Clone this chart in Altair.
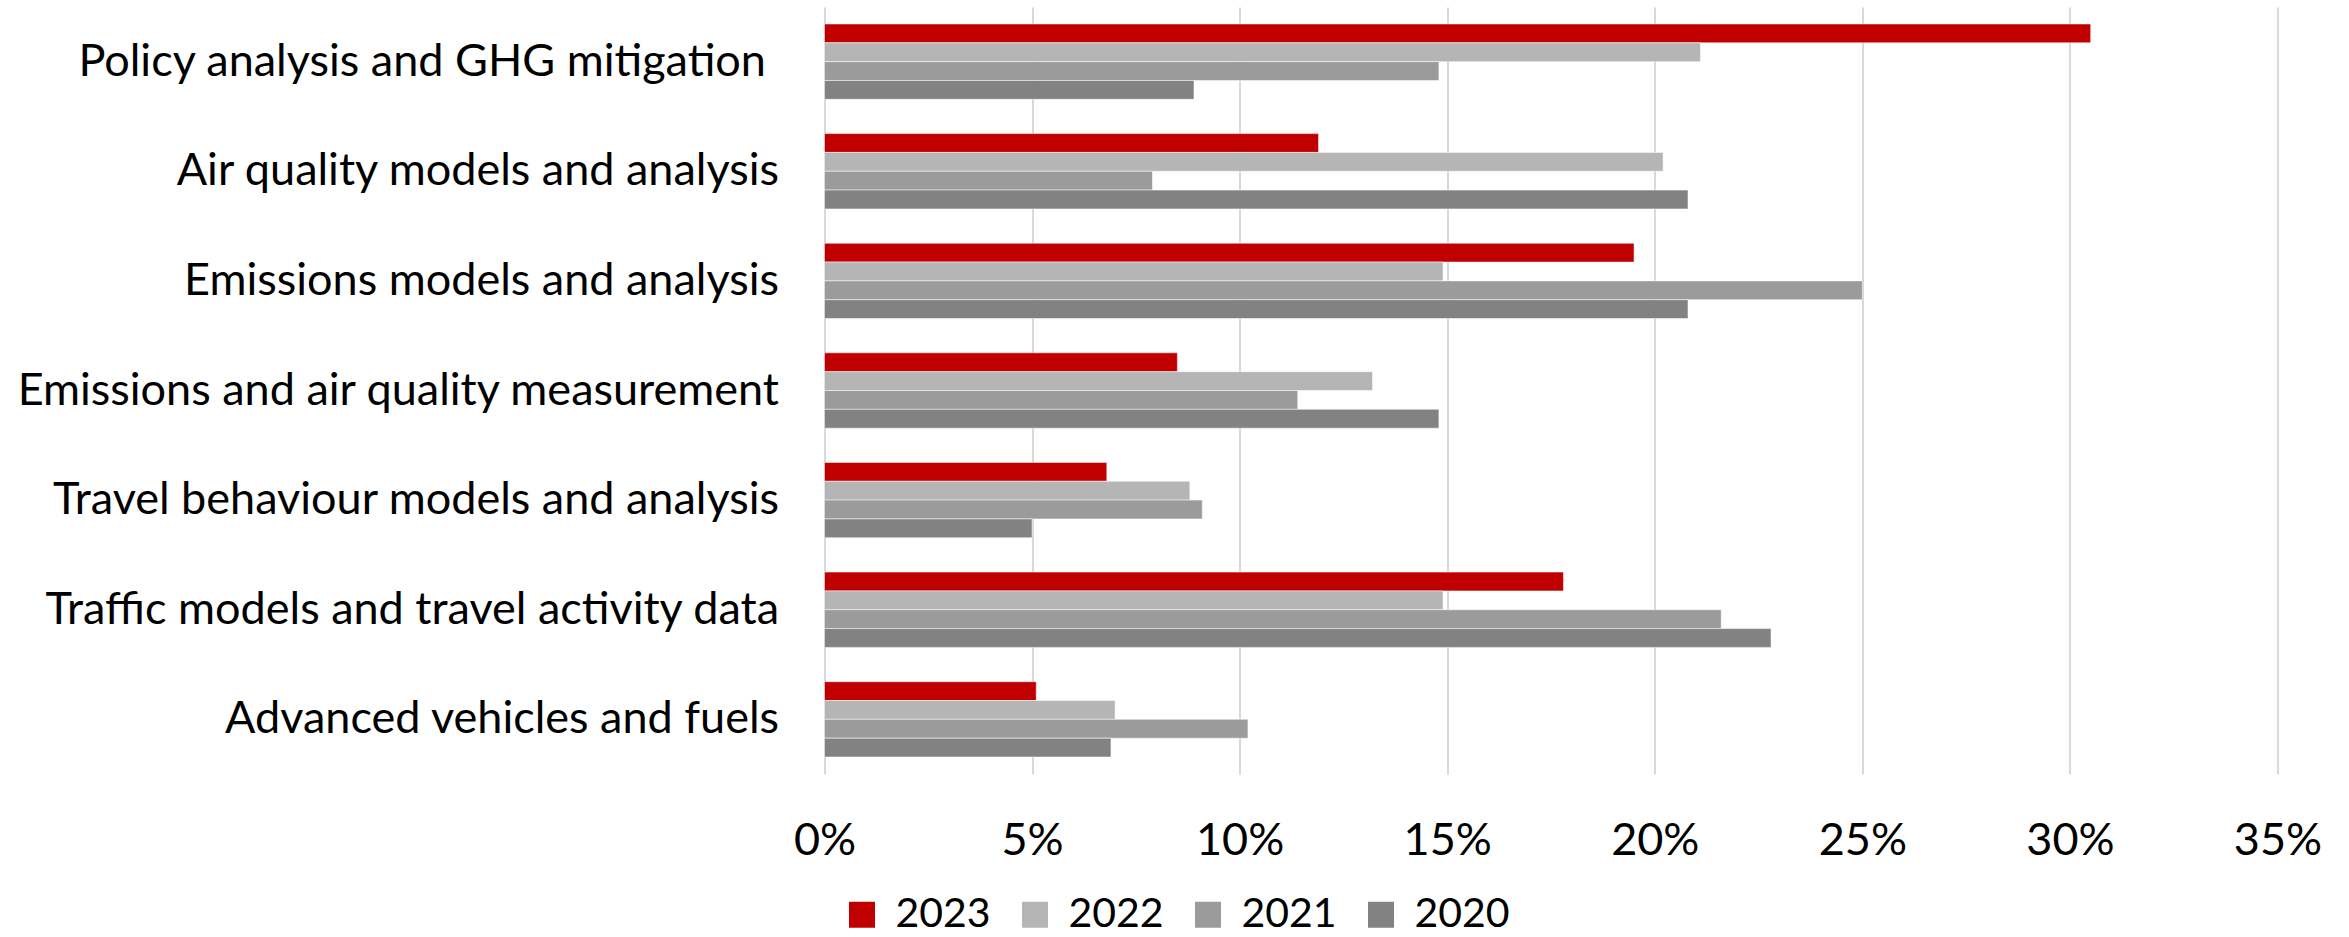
import altair as alt
import pandas as pd

# Research areas, top to bottom
categories = [
    "Policy analysis and GHG mitigation",
    "Air quality models and analysis",
    "Emissions models and analysis",
    "Emissions and air quality measurement",
    "Travel behaviour models and analysis",
    "Traffic models and travel activity data",
    "Advanced vehicles and fuels",
]

years = ["2023", "2022", "2021", "2020"]

# Share of work per area (%), one list per year
share_2023 = [30.5, 11.9, 19.5, 8.5, 6.8, 17.8, 5.1]
share_2022 = [21.1, 20.2, 14.9, 13.2, 8.8, 14.9, 7.0]
share_2021 = [14.8, 7.9, 25.0, 11.4, 9.1, 21.6, 10.2]
share_2020 = [8.9, 20.8, 20.8, 14.8, 5.0, 22.8, 6.9]

year_colors = ["#C00000", "#B5B5B5", "#9B9B9B", "#828282"]
tick_values = [0, 5, 10, 15, 20, 25, 30, 35]

rows = []
for year, values in zip(years, [share_2023, share_2022, share_2021, share_2020]):
    for area, value in zip(categories, values):
        rows.append({"area": area, "year": year, "share": value})
df = pd.DataFrame(rows)

FONT = "Lato"

chart = (
    alt.Chart(df)
    .mark_bar(stroke="white", strokeWidth=1, strokeOpacity=0.5)
    .encode(
        x=alt.X(
            "share:Q",
            scale=alt.Scale(domain=[0, 35], nice=False, zero=True),
            axis=alt.Axis(
                values=tick_values,
                labelExpr="datum.value + '%'",
                title=None,
                grid=True,
                gridColor="#D9D9D9",
                gridWidth=2,
                domain=False,
                ticks=False,
                labelAlign="center",
                labelFlush=False,
                labelPadding=44,
                labelFontSize=45,
                labelFont=FONT,
                labelColor="#000000",
            ),
        ),
        y=alt.Y(
            "area:N",
            sort=categories,
            scale=alt.Scale(paddingInner=0.313, paddingOuter=0.155),
            axis=alt.Axis(
                title=None,
                domain=False,
                ticks=False,
                labelPadding={
                    "condition": {
                        "test": "indexof(datum.value, 'Policy') == 0",
                        "value": 59,
                    },
                    "value": 46,
                },
                labelFontSize=45,
                labelFont=FONT,
                labelColor="#000000",
                labelLimit=2000,
            ),
        ),
        yOffset=alt.YOffset("year:N", sort=years),
        color=alt.Color(
            "year:N",
            sort=years,
            scale=alt.Scale(domain=years, range=year_colors),
            legend=alt.Legend(
                title=None,
                orient="none",
                legendX=17,
                legendY=887,
                direction="horizontal",
                symbolType="square",
                symbolSize=676,
                symbolStrokeWidth=0,
                symbolOpacity=1,
                labelFontSize=41,
                labelFont=FONT,
                labelColor="#000000",
                labelOffset=13,
                columnPadding=23,
                padding=0,
            ),
        ),
    )
    .properties(
        width=1453,
        height=767,
        autosize=alt.AutoSizeParams(type="none"),
        padding={"left": 824.5, "top": 7, "right": 71.5, "bottom": 163},
        background="white",
    )
    .configure_view(stroke=None)
)

chart.save("out.html", embed_options={"renderer": "svg", "actions": False})
